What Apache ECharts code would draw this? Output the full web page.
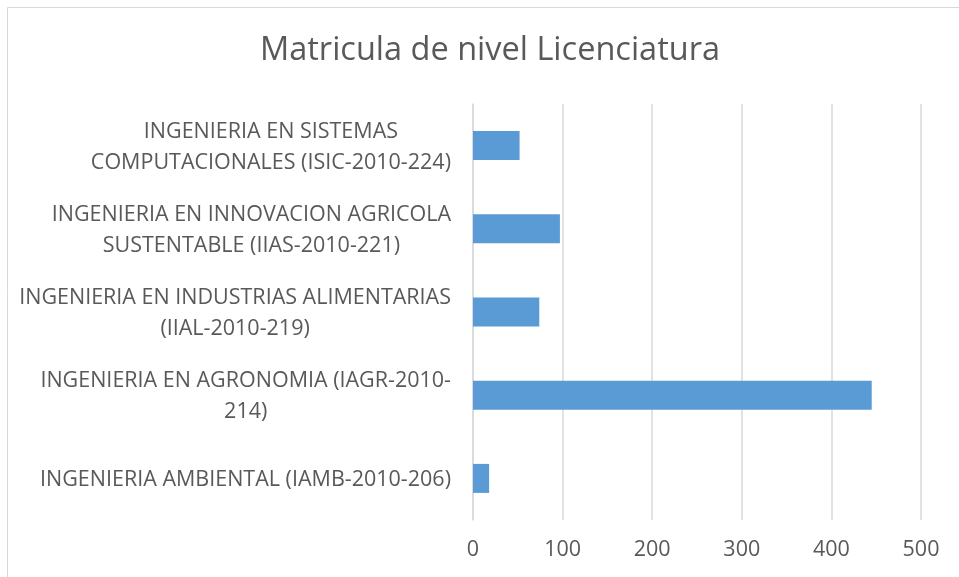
<!DOCTYPE html>
<html>
<head>
<meta charset="utf-8">
<script src="https://cdn.jsdelivr.net/npm/echarts@6/dist/echarts.min.js"></script>
<style>
    html, body { margin: 0; padding: 0; background: #fff; }
    #main { width: 959px; height: 577px; }
</style>
</head>
<body>
<div id="main"></div>
<script>
// categorias (de abajo hacia arriba, como en Excel)
const carreras = [
    'INGENIERIA AMBIENTAL (IAMB-2010-206)',
    'INGENIERIA EN AGRONOMIA (IAGR-2010-\n214)',
    'INGENIERIA EN INDUSTRIAS ALIMENTARIAS\n(IIAL-2010-219)',
    'INGENIERIA EN INNOVACION AGRICOLA\nSUSTENTABLE (IIAS-2010-221)',
    'INGENIERIA EN SISTEMAS\nCOMPUTACIONALES (ISIC-2010-224)'
];
const matricula = [18, 445, 74, 97, 52];
const ejeX = [0, 100, 200, 300, 400, 500];

const fuente = 'Open Sans';

let myChart = echarts.init(document.getElementById('main'));

let option = {
    backgroundColor: '#fff',
    animation: false,
    title: {
        text: 'Matricula de nivel Licenciatura',
        left: 485,
        top: 29,
        textAlign: 'center',
        textStyle: {
            fontFamily: fuente,
            fontWeight: 'normal',
            fontSize: 32.5,
            color: '#595959'
        }
    },
    // borde del area del grafico
    graphic: [{
        type: 'rect',
        left: 5,
        top: 5,
        shape: { width: 1000, height: 1000 },
        style: { fill: 'none', stroke: '#d9d9d9', lineWidth: 1 },
        silent: true
    }],
    grid: {
        left: 473,
        right: 38,
        top: 104,
        bottom: 57
    },
    xAxis: {
        type: 'value',
        min: ejeX[0],
        max: ejeX[ejeX.length - 1],
        interval: 100,
        axisLine: { show: false },
        axisTick: { show: false },
        axisLabel: {
            margin: 19,
            fontFamily: fuente,
            fontSize: 21.5,
            color: '#595959'
        },
        splitLine: {
            show: true,
            lineStyle: { color: '#d9d9d9', width: 1.5 }
        }
    },
    yAxis: {
        type: 'category',
        data: carreras,
        axisLine: {
            show: true,
            lineStyle: { color: '#d9d9d9', width: 1.5 }
        },
        axisTick: { show: false },
        axisLabel: {
            margin: 22,
            color: '#595959',
            lineHeight: 31,
            formatter: function(value) {
                return value.split('\n').map(l => '{c|' + l + '}').join('\n');
            },
            rich: {
                c: {
                    align: 'center',
                    fontFamily: fuente,
                    fontSize: 21.5,
                    color: '#595959',
                    lineHeight: 31,
                    padding: [3, 0, 0, 0]
                }
            }
        }
    },
    series: [
        {
            name: 'Matricula',
            type: 'bar',
            data: matricula,
            barWidth: 29,
            itemStyle: { color: '#5b9bd5' }
        }
    ]
};

myChart.setOption(option);
</script>
</body>
</html>
